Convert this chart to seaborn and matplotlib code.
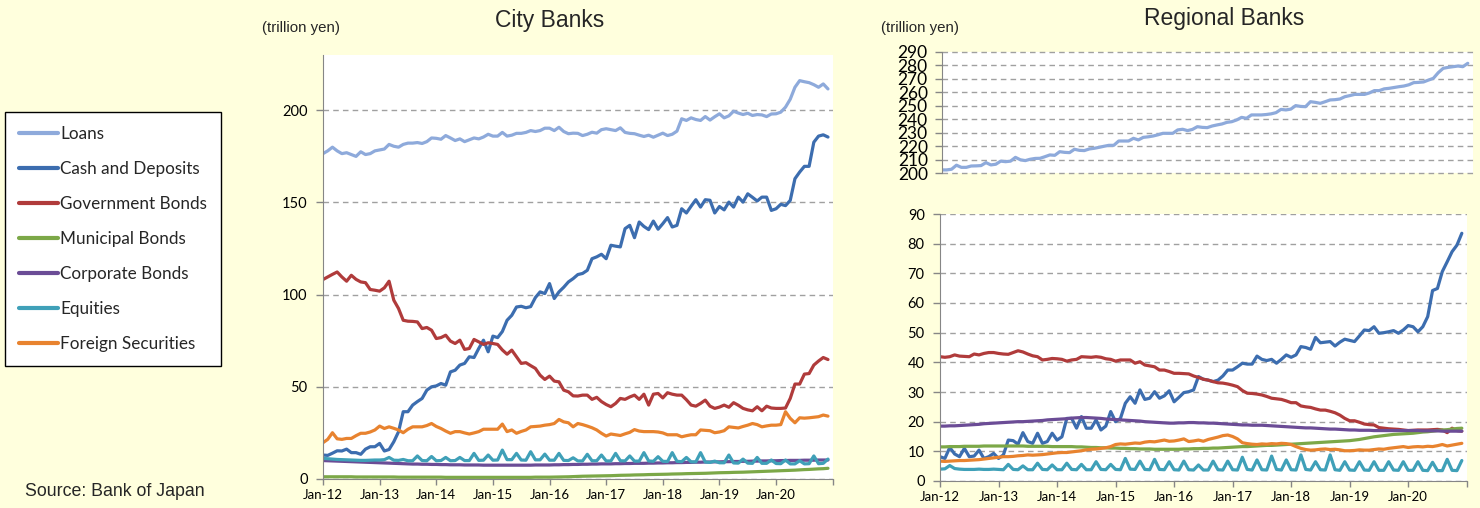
import numpy as np
import pandas as pd
import matplotlib
matplotlib.use("Agg")
import matplotlib.pyplot as plt
import seaborn as sns
from matplotlib.lines import Line2D

series_names = ["Loans", "Cash and Deposits", "Government Bonds", "Municipal Bonds",
                "Corporate Bonds", "Equities", "Foreign Securities"]
series_colors = ["#8EAADB", "#3C6DAF", "#B03B3B", "#7CA848", "#6B4C96", "#3FA0B8", "#E8832F"]
year_labels = ["Jan-12", "Jan-13", "Jan-14", "Jan-15", "Jan-16", "Jan-17", "Jan-18", "Jan-19", "Jan-20"]

# City banks, monthly Jan-12 .. Dec-20 (trillion yen)
city_loans = [
    176.5, 178.0, 180.0, 178.0, 176.5, 177.0, 176.0, 175.0, 177.5, 176.0, 176.5, 178.0,
    178.5, 179.0, 181.5, 180.5, 180.0, 181.5, 182.2, 182.2, 182.5, 182.0, 183.0, 185.0,
    184.8, 184.3, 186.3, 185.0, 183.6, 184.5, 183.0, 184.0, 185.0, 184.5, 185.5, 187.0,
    186.0, 186.0, 188.0, 186.0, 186.5, 187.5, 187.5, 188.0, 189.0, 188.5, 189.0, 190.3,
    190.3, 189.0, 190.8, 188.5, 187.3, 187.6, 187.5, 186.3, 187.0, 188.1, 187.6, 189.5,
    190.0, 189.5, 189.0, 190.5, 188.0, 187.5, 187.3, 186.5, 185.8, 186.5, 185.4, 186.5,
    187.6, 186.3, 187.0, 188.7, 195.4, 194.5, 195.9, 195.0, 194.5, 196.6, 194.7, 196.5,
    198.1, 195.9, 197.0, 199.5, 198.5, 197.7, 198.4, 197.2, 197.7, 197.5, 196.6, 198.0,
    198.1, 199.0, 201.7, 206.0, 212.5, 216.1, 215.5, 215.0, 213.9, 212.5, 214.3, 211.6,
]
city_cash = [
    13.0, 12.8, 14.0, 15.3, 15.2, 16.2, 14.3, 14.3, 13.4, 16.2, 17.5, 17.5,
    19.3, 15.2, 16.0, 20.2, 25.6, 36.5, 36.5, 40.1, 42.0, 43.7, 48.2, 50.0,
    50.5, 51.8, 50.9, 58.1, 59.0, 61.8, 62.7, 66.3, 65.9, 70.8, 75.3, 69.0,
    77.5, 76.7, 80.0, 86.1, 88.8, 93.3, 93.7, 92.9, 93.5, 98.4, 101.5, 100.6,
    106.0, 97.9, 101.5, 104.0, 106.9, 108.7, 110.9, 111.5, 113.2, 119.5, 120.5, 121.9,
    119.5, 126.8, 126.3, 125.9, 135.8, 137.6, 130.9, 139.4, 137.0, 135.3, 139.9, 135.5,
    138.5, 141.8, 136.7, 137.6, 146.6, 144.3, 148.0, 151.5, 147.5, 151.5, 151.2, 144.3,
    147.8, 146.0, 150.2, 147.5, 152.9, 150.2, 154.7, 152.8, 150.8, 152.9, 152.9, 145.7,
    146.6, 149.0, 148.3, 151.1, 162.9, 166.5, 169.6, 169.6, 182.7, 186.0, 186.7, 185.5,
]
city_gov = [
    108.2, 109.6, 111.0, 112.3, 109.6, 107.3, 110.5, 108.3, 106.9, 106.5, 102.8, 102.4,
    101.9, 103.7, 107.3, 97.0, 92.5, 86.1, 85.6, 85.5, 85.2, 81.6, 82.2, 80.7,
    76.2, 76.7, 78.0, 74.8, 73.5, 75.3, 70.3, 70.8, 75.7, 74.4, 73.0, 73.9,
    73.5, 73.0, 70.0, 67.7, 69.9, 66.3, 62.7, 63.1, 61.5, 60.0, 56.3, 54.0,
    55.8, 53.1, 52.7, 48.2, 47.3, 45.1, 45.0, 45.5, 45.5, 43.2, 44.3, 42.0,
    40.4, 39.2, 41.0, 43.7, 43.2, 44.5, 45.5, 43.2, 46.0, 40.1, 46.0, 46.4,
    44.0, 46.8, 46.0, 45.5, 45.5, 43.0, 40.1, 39.5, 41.0, 42.8, 39.5, 38.3,
    39.0, 40.1, 38.9, 41.4, 40.0, 38.3, 37.5, 37.0, 39.2, 37.0, 39.5, 38.5,
    38.3, 38.3, 38.5, 43.7, 51.5, 51.5, 56.9, 57.2, 61.8, 64.0, 65.9, 64.8,
]
city_muni = [
    1.2, 1.2, 1.2, 1.2, 1.2, 1.2, 1.2, 1.1, 1.1, 1.1, 1.1, 1.1,
    1.1, 1.1, 1.1, 1.1, 1.0, 1.0, 1.0, 1.0, 1.0, 1.0, 1.0, 1.0,
    1.0, 1.0, 0.9, 0.9, 0.9, 0.9, 0.9, 0.9, 0.9, 0.9, 0.9, 0.9,
    0.9, 0.9, 0.9, 0.9, 0.9, 0.9, 0.9, 0.9, 0.9, 1.0, 1.0, 1.0,
    1.0, 1.05, 1.1, 1.15, 1.2, 1.3, 1.4, 1.5, 1.55, 1.6, 1.65, 1.7,
    1.75, 1.8, 1.9, 2.0, 2.05, 2.1, 2.2, 2.25, 2.3, 2.4, 2.45, 2.5,
    2.55, 2.6, 2.7, 2.75, 2.8, 2.9, 2.95, 3.0, 3.05, 3.1, 3.2, 3.3,
    3.4, 3.45, 3.5, 3.6, 3.65, 3.7, 3.8, 3.9, 4.0, 4.1, 4.2, 4.3,
    4.4, 4.5, 4.6, 4.7, 4.8, 4.95, 5.1, 5.2, 5.35, 5.5, 5.6, 5.8,
]
city_corp = [
    10.0, 9.9, 9.8, 9.7, 9.6, 9.5, 9.4, 9.3, 9.2, 9.1, 9.0, 8.9,
    8.8, 8.7, 8.6, 8.5, 8.4, 8.3, 8.2, 8.1, 8.1, 8.0, 8.0, 7.9,
    7.9, 7.8, 7.8, 7.7, 7.7, 7.7, 7.6, 7.6, 7.6, 7.6, 7.5, 7.5,
    7.5, 7.5, 7.5, 7.5, 7.5, 7.5, 7.5, 7.5, 7.5, 7.6, 7.6, 7.6,
    7.6, 7.7, 7.7, 7.8, 7.8, 7.9, 7.9, 8.0, 8.0, 8.1, 8.1, 8.2,
    8.2, 8.2, 8.3, 8.3, 8.4, 8.4, 8.5, 8.5, 8.5, 8.6, 8.6, 8.7,
    8.7, 8.8, 8.8, 8.9, 8.9, 9.0, 9.0, 9.1, 9.1, 9.2, 9.2, 9.3,
    9.3, 9.4, 9.4, 9.5, 9.5, 9.6, 9.6, 9.7, 9.7, 9.8, 9.8, 9.9,
    9.9, 10.0, 10.0, 10.1, 10.1, 10.1, 10.2, 10.2, 10.2, 10.3, 10.3, 10.3,
]
city_equities = [
    11.2, 11.0, 10.8, 10.6, 10.5, 10.4, 10.3, 10.2, 10.1, 10.1, 10.2, 10.3,
    10.3, 10.5, 11.7, 10.2, 10.1, 10.6, 9.9, 9.9, 12.5, 10.0, 9.9, 12.2,
    9.9, 10.0, 11.7, 9.9, 10.0, 11.7, 10.0, 10.0, 13.9, 10.1, 10.2, 13.0,
    10.2, 10.3, 15.7, 10.5, 10.5, 13.9, 10.3, 10.2, 14.8, 10.4, 10.4, 13.5,
    10.2, 10.2, 13.9, 10.1, 10.0, 11.5, 9.8, 9.8, 13.4, 9.9, 9.9, 13.0,
    9.8, 9.8, 13.9, 9.9, 9.8, 12.5, 9.7, 9.7, 14.3, 9.8, 9.6, 12.1,
    9.6, 9.5, 14.3, 9.6, 9.4, 11.7, 9.3, 9.3, 14.3, 9.2, 9.0, 9.7,
    8.8, 8.8, 13.0, 8.7, 8.6, 10.8, 8.6, 8.5, 11.7, 8.5, 8.5, 10.3,
    8.4, 8.3, 10.3, 8.2, 8.2, 9.9, 8.2, 8.3, 12.5, 8.3, 8.5, 10.8,
]
city_foreign = [
    19.7, 21.5, 25.1, 21.8, 21.5, 22.0, 22.0, 23.5, 24.8, 24.8, 25.5, 26.6,
    28.7, 27.4, 28.3, 27.5, 26.6, 25.1, 27.0, 28.3, 28.3, 28.3, 29.0, 30.1,
    28.5, 27.4, 26.0, 24.8, 25.7, 25.7, 25.0, 24.4, 25.0, 25.7, 27.0, 27.0,
    27.0, 27.0, 29.8, 25.7, 26.6, 24.8, 25.8, 26.6, 28.3, 28.5, 28.7, 29.2,
    29.5, 30.1, 32.3, 31.0, 30.5, 28.3, 30.1, 29.5, 28.7, 27.8, 26.6, 24.8,
    23.3, 24.4, 24.0, 23.6, 24.5, 25.3, 26.8, 26.0, 25.7, 25.7, 25.7, 25.5,
    25.0, 24.0, 24.0, 24.0, 22.9, 23.5, 24.0, 24.0, 26.6, 26.4, 26.2, 25.1,
    25.5, 26.2, 28.3, 28.0, 27.7, 28.5, 29.2, 30.1, 29.5, 28.3, 28.8, 29.2,
    29.2, 29.5, 36.5, 32.9, 30.5, 33.2, 33.0, 33.2, 33.5, 33.8, 34.7, 34.1,
]

# Regional banks, monthly Jan-12 .. Dec-20 (trillion yen)
reg_loans = [
    202.5, 202.5, 203.0, 206.0, 204.4, 204.4, 205.4, 205.5, 205.7, 207.9, 206.2, 206.7,
    209.0, 208.6, 209.0, 211.8, 210.0, 209.4, 210.4, 211.0, 211.1, 212.3, 213.6, 213.3,
    216.0, 215.5, 215.3, 217.8, 217.0, 216.8, 218.0, 218.5, 219.2, 220.0, 220.7, 220.7,
    223.9, 223.9, 223.9, 225.9, 224.7, 226.6, 227.0, 227.6, 228.5, 229.6, 229.6, 229.6,
    232.1, 232.6, 231.6, 232.5, 234.5, 234.0, 233.8, 235.0, 235.8, 236.5, 237.7, 238.2,
    239.5, 241.4, 240.7, 243.2, 243.2, 243.2, 243.5, 244.0, 244.9, 247.3, 246.9, 247.5,
    250.1, 249.5, 249.3, 253.0, 252.5, 251.8, 253.0, 254.3, 254.5, 255.0, 256.7, 257.5,
    258.4, 258.4, 258.4, 259.5, 261.2, 261.2, 262.5, 262.9, 263.5, 264.1, 264.6, 265.5,
    267.1, 267.3, 267.6, 269.0, 270.3, 274.5, 277.7, 278.4, 278.9, 279.4, 278.9, 281.4,
]
reg_cash = [
    8.2, 7.6, 11.3, 9.1, 8.2, 11.0, 8.2, 8.4, 10.4, 7.6, 8.2, 9.3,
    7.6, 8.8, 13.8, 13.6, 12.4, 16.3, 13.3, 12.7, 16.1, 12.7, 13.3, 16.1,
    13.8, 14.9, 21.1, 21.1, 17.8, 21.7, 17.8, 17.8, 20.6, 17.2, 18.5, 23.4,
    20.0, 21.1, 26.2, 28.4, 26.2, 30.7, 27.5, 27.9, 30.1, 27.9, 28.7, 30.4,
    26.7, 28.2, 29.8, 30.1, 30.7, 35.2, 34.3, 34.0, 33.5, 34.0, 35.4, 37.4,
    37.4, 38.5, 39.7, 39.4, 39.4, 42.1, 41.0, 40.6, 41.0, 39.7, 41.0, 42.5,
    41.7, 42.5, 45.3, 45.0, 44.4, 48.4, 46.6, 46.8, 47.0, 45.5, 46.8, 47.8,
    47.4, 47.0, 48.9, 50.9, 50.7, 52.0, 49.8, 50.0, 50.3, 50.7, 49.8, 50.9,
    52.4, 52.0, 50.3, 52.0, 55.4, 64.2, 64.9, 70.6, 73.9, 77.3, 79.5, 83.5,
]
reg_gov = [
    41.9, 41.7, 41.9, 42.5, 42.1, 42.0, 41.9, 42.8, 42.5, 43.0, 43.3, 43.3,
    43.0, 42.8, 42.7, 43.3, 43.9, 43.5, 42.8, 42.2, 41.9, 40.8, 41.0, 41.3,
    41.2, 41.0, 40.4, 40.8, 41.0, 41.9, 41.8, 41.7, 41.9, 41.7, 41.2, 41.0,
    40.4, 40.8, 40.8, 40.8, 39.7, 40.2, 39.1, 38.8, 38.5, 37.4, 37.4, 36.9,
    36.3, 36.3, 36.2, 36.1, 35.4, 34.9, 34.3, 34.0, 33.5, 33.1, 33.0, 32.7,
    32.3, 31.8, 30.5, 29.6, 29.5, 29.3, 29.0, 28.5, 27.9, 27.7, 27.5, 27.0,
    26.4, 26.4, 25.3, 25.0, 24.8, 24.3, 23.9, 23.9, 23.5, 23.0, 22.2, 21.1,
    20.3, 20.3, 19.8, 19.2, 19.0, 18.9, 18.0, 17.8, 17.6, 17.5, 17.4, 17.2,
    17.0, 17.1, 17.2, 17.2, 17.2, 17.3, 17.4, 17.2, 16.3, 17.8, 17.0, 16.8,
]
reg_muni = [
    11.5, 11.5, 11.6, 11.6, 11.6, 11.7, 11.7, 11.7, 11.7, 11.8, 11.8, 11.8,
    11.8, 11.8, 11.8, 11.8, 11.8, 11.8, 11.7, 11.7, 11.7, 11.7, 11.7, 11.6,
    11.6, 11.6, 11.6, 11.6, 11.5, 11.5, 11.4, 11.3, 11.3, 11.2, 11.2, 11.1,
    11.1, 11.0, 11.0, 10.9, 10.9, 10.8, 10.8, 10.8, 10.7, 10.7, 10.7, 10.7,
    10.7, 10.7, 10.8, 10.8, 10.9, 10.9, 11.0, 11.0, 11.1, 11.1, 11.2, 11.3,
    11.4, 11.5, 11.6, 11.6, 11.7, 11.8, 11.9, 12.0, 12.0, 12.1, 12.2, 12.3,
    12.4, 12.5, 12.6, 12.7, 12.8, 12.9, 13.0, 13.1, 13.2, 13.3, 13.4, 13.5,
    13.6, 13.8, 14.0, 14.3, 14.6, 14.9, 15.1, 15.3, 15.5, 15.7, 15.8, 15.9,
    16.0, 16.1, 16.3, 16.5, 16.6, 16.8, 17.0, 17.2, 17.3, 17.5, 17.7, 17.8,
]
reg_corp = [
    18.5, 18.5, 18.6, 18.6, 18.7, 18.8, 18.9, 19.0, 19.1, 19.3, 19.4, 19.5,
    19.6, 19.7, 19.8, 19.9, 20.0, 20.0, 20.1, 20.2, 20.3, 20.4, 20.6, 20.7,
    20.8, 20.9, 21.0, 21.2, 21.3, 21.4, 21.4, 21.3, 21.2, 21.1, 20.9, 20.8,
    20.7, 20.6, 20.5, 20.4, 20.3, 20.2, 20.0, 19.9, 19.8, 19.7, 19.6, 19.5,
    19.5, 19.6, 19.6, 19.7, 19.7, 19.6, 19.6, 19.5, 19.5, 19.4, 19.3, 19.2,
    19.1, 19.0, 18.9, 18.9, 18.8, 18.8, 18.8, 18.7, 18.6, 18.5, 18.4, 18.3,
    18.2, 18.1, 18.0, 17.9, 17.9, 17.8, 17.7, 17.6, 17.5, 17.5, 17.4, 17.3,
    17.2, 17.2, 17.1, 17.1, 17.1, 17.0, 17.0, 17.0, 17.0, 17.0, 17.0, 17.0,
    17.0, 17.0, 17.0, 16.9, 16.9, 16.9, 16.9, 16.8, 16.8, 16.8, 16.8, 16.8,
]
reg_equities = [
    4.0, 4.1, 5.2, 4.2, 4.0, 3.9, 3.9, 3.9, 4.0, 3.9, 3.9, 4.0,
    3.9, 3.8, 5.6, 3.9, 3.8, 5.1, 3.8, 3.8, 6.0, 3.9, 3.8, 5.4,
    3.8, 3.8, 6.0, 3.9, 3.8, 5.6, 3.8, 3.8, 6.5, 3.9, 3.8, 5.6,
    3.9, 3.8, 7.6, 4.0, 3.9, 6.7, 3.9, 3.8, 7.3, 3.9, 3.8, 6.5,
    3.8, 3.7, 6.7, 3.8, 3.7, 5.4, 3.7, 3.7, 6.7, 3.8, 3.7, 6.7,
    3.8, 3.7, 8.0, 3.9, 3.7, 7.1, 3.8, 3.7, 8.4, 3.9, 3.7, 7.1,
    3.8, 3.7, 8.8, 3.9, 3.7, 6.5, 3.8, 3.7, 8.8, 3.8, 3.6, 6.5,
    3.7, 3.6, 6.5, 3.7, 3.6, 6.5, 3.6, 3.6, 6.5, 3.7, 3.6, 6.5,
    3.6, 3.6, 6.5, 3.6, 3.5, 6.3, 3.5, 3.5, 7.3, 3.6, 3.5, 6.9,
]
reg_foreign = [
    6.7, 6.6, 6.7, 6.8, 6.9, 6.9, 7.0, 7.1, 7.2, 7.4, 7.6, 7.8,
    8.0, 8.2, 8.2, 8.3, 8.5, 8.6, 8.8, 8.7, 8.8, 8.9, 9.1, 9.3,
    9.5, 9.6, 9.6, 9.8, 10.0, 10.2, 10.5, 10.7, 10.8, 11.0, 11.2, 11.6,
    12.3, 12.5, 12.4, 12.6, 12.8, 12.7, 13.1, 13.3, 13.2, 13.5, 13.8, 13.4,
    13.5, 13.8, 14.2, 13.3, 13.5, 13.8, 13.4, 14.0, 14.4, 14.8, 15.3, 15.5,
    15.0, 14.2, 12.9, 12.6, 12.4, 12.3, 12.5, 12.4, 12.6, 12.5, 12.7, 12.6,
    12.3, 11.6, 11.0, 10.6, 10.4, 10.5, 10.7, 10.8, 10.6, 10.7, 10.5, 10.2,
    10.2, 10.3, 10.5, 10.4, 10.4, 10.6, 10.8, 10.7, 11.0, 11.2, 11.4, 11.6,
    11.3, 11.5, 11.6, 11.5, 11.7, 11.6, 11.9, 12.3, 11.8, 12.1, 12.4, 12.7,
]

months = np.arange(len(city_loans))


def long_frame(columns, names):
    return pd.DataFrame({
        "month": np.tile(months, len(columns)),
        "value": np.concatenate([np.asarray(c, dtype=float) for c in columns]),
        "series": np.repeat(names, len(months)),
    })


city_df = long_frame([city_loans, city_cash, city_gov, city_muni, city_corp, city_equities, city_foreign],
                     series_names)
reg_top_df = long_frame([reg_loans], series_names[:1])
reg_bot_df = long_frame([reg_cash, reg_gov, reg_muni, reg_corp, reg_equities, reg_foreign], series_names[1:])

sns.set_style("white")
plt.rcParams["font.family"] = ["Lato", "DejaVu Sans"]

W, H = 1480, 508
bg = "#FFFFDD"
axis_grey = "#868686"
grid_grey = "#A0A0A0"
lw = 2.3

fig = plt.figure(figsize=(W / 100, H / 100), dpi=100)
fig.patch.set_facecolor(bg)


def box(left, top, right, bottom):
    return [left / W, 1 - bottom / H, (right - left) / W, (bottom - top) / H]


ax_city = fig.add_axes(box(323, 55, 832.7, 479))
ax_rtop = fig.add_axes(box(941.7, 51.7, 1472.7, 173.3))
ax_rbot = fig.add_axes(box(940, 214, 1466.7, 481))

sns.lineplot(data=city_df, x="month", y="value", hue="series", hue_order=series_names,
             palette=series_colors, linewidth=lw, ax=ax_city, legend=False)
sns.lineplot(data=reg_top_df, x="month", y="value", hue="series", hue_order=series_names[:1],
             palette=series_colors[:1], linewidth=lw, ax=ax_rtop, legend=False)
sns.lineplot(data=reg_bot_df, x="month", y="value", hue="series", hue_order=series_names[1:],
             palette=series_colors[1:], linewidth=lw, ax=ax_rbot, legend=False)

for ax in (ax_city, ax_rtop, ax_rbot):
    ax.set_facecolor("white")
    ax.set_xlim(0, 108)
    ax.set_xlabel("")
    ax.set_ylabel("")
    for s in ("top", "right"):
        ax.spines[s].set_visible(False)
    ax.spines["left"].set_color(axis_grey)
    ax.spines["bottom"].set_color(axis_grey)
    ax.yaxis.grid(True, linestyle=(0, (4, 3)), color=grid_grey, linewidth=1)
    ax.xaxis.grid(False)
    ax.set_axisbelow(True)
    ax.tick_params(axis="y", which="both", left=True, length=5, width=1, color=axis_grey,
                   pad=6, labelsize=10.5, labelcolor="black")

# x ticks: one per year, last tick (Jan-21) unlabeled
xt = list(range(0, 109, 12))
for ax in (ax_city, ax_rbot):
    ax.set_xticks(xt)
    ax.set_xticklabels(year_labels + [""])
    ax.tick_params(axis="x", bottom=True, length=4, width=1, color=axis_grey, pad=3,
                   labelsize=9.5, labelcolor="black")

ax_city.set_ylim(0, 230)
ax_city.set_yticks([0, 50, 100, 150, 200])

ax_rtop.set_ylim(200, 290)
ax_rtop.set_yticks(range(200, 291, 10))
ax_rtop.set_xticks([])
ax_rtop.spines["bottom"].set_visible(False)
ax_rtop.tick_params(axis="y", labelsize=12.5, pad=5)
for t in ax_rtop.yaxis.get_gridlines():
    t.set_clip_on(False)

ax_rbot.set_ylim(0, 90)
ax_rbot.set_yticks(range(0, 91, 10))

# titles and notes
arial = ["Liberation Sans", "DejaVu Sans"]
fig.text(550 / W, 1 - 20 / H, "City Banks", ha="center", va="center", fontsize=16.5, family=arial)
fig.text(1224 / W, 1 - 18 / H, "Regional Banks", ha="center", va="center", fontsize=16.5, family=arial)
fig.text(300.5 / W, 1 - 28 / H, "(trillion yen)", ha="center", va="center", fontsize=10.8, family=arial)
fig.text(920.5 / W, 1 - 28 / H, "(trillion yen)", ha="center", va="center", fontsize=10.8, family=arial)
fig.text(25 / W, 1 - 492 / H, "Source: Bank of Japan", ha="left", va="center", fontsize=12.8, family=arial)

handles = [Line2D([], [], color=c, linewidth=3) for c in series_colors]
leg = fig.legend(handles, series_names, loc="upper left", bbox_to_anchor=(5.3 / W, 1 - 112 / H),
                 frameon=True, fancybox=False, edgecolor="black", facecolor="white", framealpha=1,
                 prop={"family": ["Lato", "DejaVu Sans"], "size": 12.3}, labelspacing=1.12,
                 handlelength=2.3, handletextpad=0.12, borderpad=0.8, borderaxespad=0)
leg.get_frame().set_linewidth(1.0)

fig.savefig("out.png", dpi=100, facecolor=bg)
